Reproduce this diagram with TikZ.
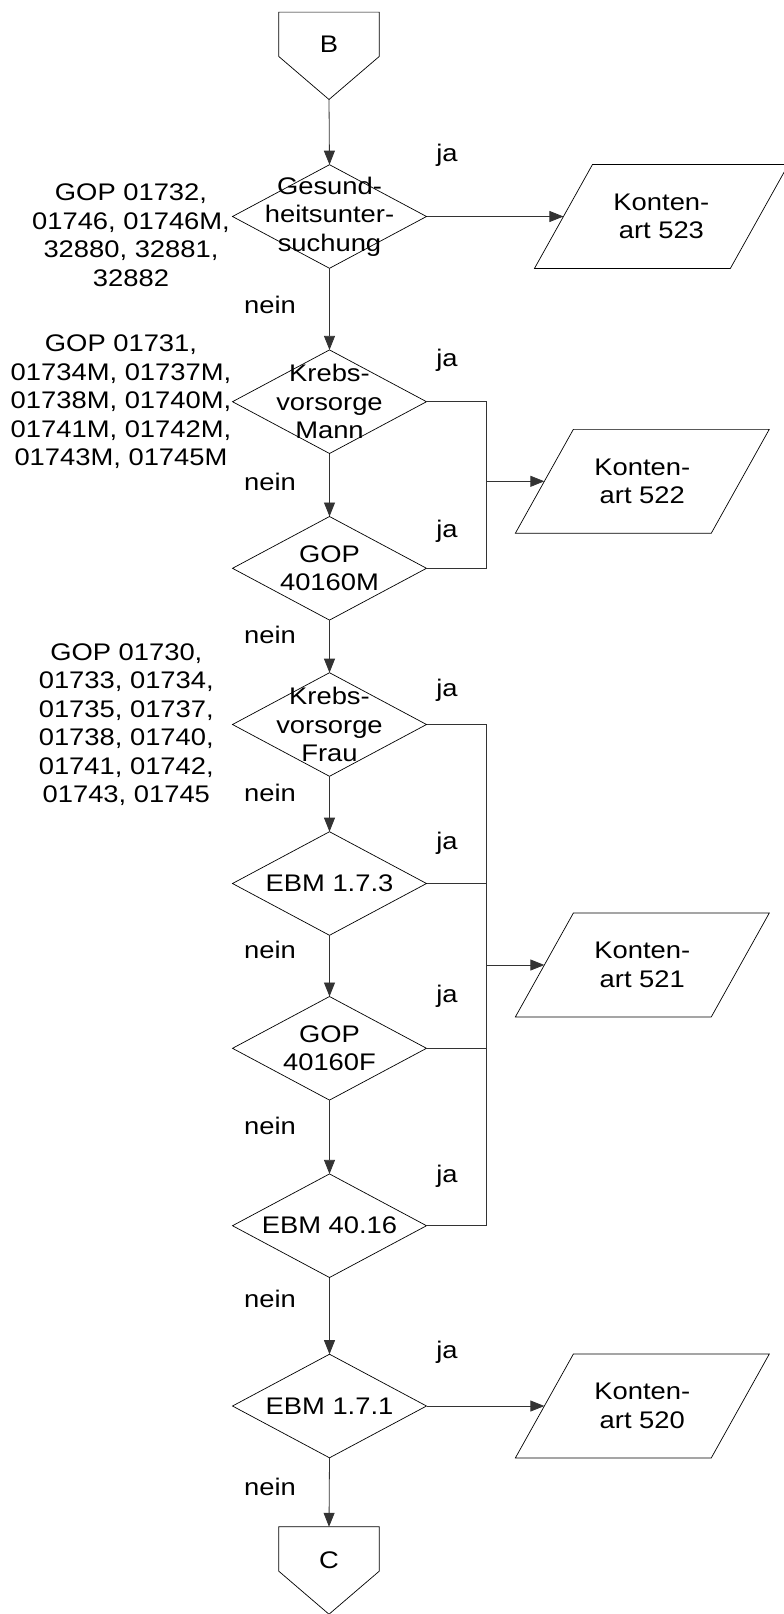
\documentclass[tikz,border=0pt]{standalone}
\usepackage{fontspec}
\setmainfont{Liberation Sans}[FakeStretch=1.14]
\usetikzlibrary{arrows.meta}
\tikzset{
  txt/.style={font=\fontsize{24}{28.5}\selectfont, align=center, inner sep=0pt, text=black},
  dia/.style={txt, minimum width=193.6pt, minimum height=103.2pt},
  datbox/.style={txt, minimum width=195.5pt, minimum height=103.5pt},
  offpage/.style={minimum width=100pt, minimum height=87pt, inner sep=0pt},
  wire/.style={draw=black!80, line width=0.8pt},
  arr/.style={wire, -{Triangle[length=14pt,width=11pt]}},
  outline/.style={draw=black, line width=0.7pt},
}
\begin{document}
\begin{tikzpicture}[x=1pt,y=-1pt]
\useasboundingbox (0,0) rectangle (784,1614);

% off-page connectors
\node[offpage] (B) at (329,55.8) {};
\node[txt] (Bt) at (329,44.7) {B};
\node[offpage] (C) at (329,1570.5) {};
\node[txt] (Ct) at (329,1560) {C};
\foreach \n in {B,C}
  \draw[outline] (\n.north west) -- (\n.north east) -- ([yshift=43pt]\n.south east)
     -- (\n.south) -- ([yshift=43pt]\n.south west) -- cycle;

% decisions
\node[dia] (d1) at (329.5,216.5) {Gesund-\\heitsunter-\\suchung};
\node[dia] (d2) at (329.5,401.7) {Krebs-\\vorsorge\\Mann};
\node[dia] (d3) at (329.5,568.3) {GOP\\40160M};
\node[dia] (d4) at (329.5,724.5) {Krebs-\\vorsorge\\Frau};
\node[dia] (d5) at (329.5,883.5) {EBM 1.7.3};
\node[dia] (d6) at (329.5,1048.3) {GOP\\40160F};
\node[dia] (d7) at (329.5,1225.7) {EBM 40.16};
\node[dia] (d8) at (329.5,1406) {EBM 1.7.1};
\foreach \n in {d1,d2,d3,d4,d5,d6,d7,d8}
  \draw[outline] (\n.west) -- (\n.north) -- (\n.east) -- (\n.south) -- cycle;

% data (parallelograms)
\node[datbox] (p523) at (661.4,216.5) {Konten-\\art 523};
\node[datbox] (p522) at (642.3,481.3) {Konten-\\art 522};
\node[datbox] (p521) at (642.3,965) {Konten-\\art 521};
\node[datbox] (p520) at (642.3,1406) {Konten-\\art 520};
\foreach \n in {p523,p522,p521,p520}
  \draw[outline] ([xshift=-29pt]\n.south west) -- ([xshift=29pt]\n.north west)
     -- ([xshift=29pt]\n.north east) -- ([xshift=-29pt]\n.south east) -- cycle;

% side notes
\node[txt] (n1) at (131,235) {GOP 01732,\\01746, 01746M,\\32880, 32881,\\32882};
\node[txt] (n2) at (121,401.7) {GOP 01731,\\01734M, 01737M,\\01738M, 01740M,\\01741M, 01742M,\\01743M, 01745M};
\node[txt] (n3) at (126.3,724.5) {GOP 01730,\\01733, 01734,\\01735, 01737,\\01738, 01740,\\01741, 01742,\\01743, 01745};

% main flow
\draw[arr] (B.south) -- (d1.north);
\draw[arr] (d1.south) -- (d2.north);
\draw[arr] (d2.south) -- (d3.north);
\draw[arr] (d3.south) -- (d4.north);
\draw[arr] (d4.south) -- (d5.north);
\draw[arr] (d5.south) -- (d6.north);
\draw[arr] (d6.south) -- (d7.north);
\draw[arr] (d7.south) -- (d8.north);
\draw[arr] (d8.south) -- (C.north);

% yes branches
\draw[arr] (d1.east) -- (p523.west);
\coordinate (bus1) at (486,481.3);
\draw[wire] (d2.east) -- (d2.east -| bus1) -- (d3.east -| bus1) -- (d3.east);
\draw[arr] (bus1) -- (p522.west);
\coordinate (bus2) at (486,965);
\draw[wire] (d4.east) -- (d4.east -| bus2) -- (d7.east -| bus2) -- (d7.east);
\draw[wire] (d5.east) -- (d5.east -| bus2);
\draw[wire] (d6.east) -- (d6.east -| bus2);
\draw[arr] (bus2) -- (p521.west);
\draw[arr] (d8.east) -- (p520.west);

% ja / nein labels
\node[txt] (j1) at (447,155) {ja};
\node[txt] (j2) at (447,360) {ja};
\node[txt] (j3) at (447,531.7) {ja};
\node[txt] (j4) at (447,690.5) {ja};
\node[txt] (j5) at (447,843.3) {ja};
\node[txt] (j6) at (447,996.7) {ja};
\node[txt] (j7) at (447,1176) {ja};
\node[txt] (j8) at (447,1352.3) {ja};
\node[txt] (e1) at (270,305) {nein};
\node[txt] (e2) at (270,481.7) {nein};
\node[txt] (e3) at (270,635) {nein};
\node[txt] (e4) at (270,792.7) {nein};
\node[txt] (e5) at (270,950) {nein};
\node[txt] (e6) at (270,1126) {nein};
\node[txt] (e7) at (270,1299.3) {nein};
\node[txt] (e8) at (270,1487.3) {nein};
\end{tikzpicture}
\end{document}
